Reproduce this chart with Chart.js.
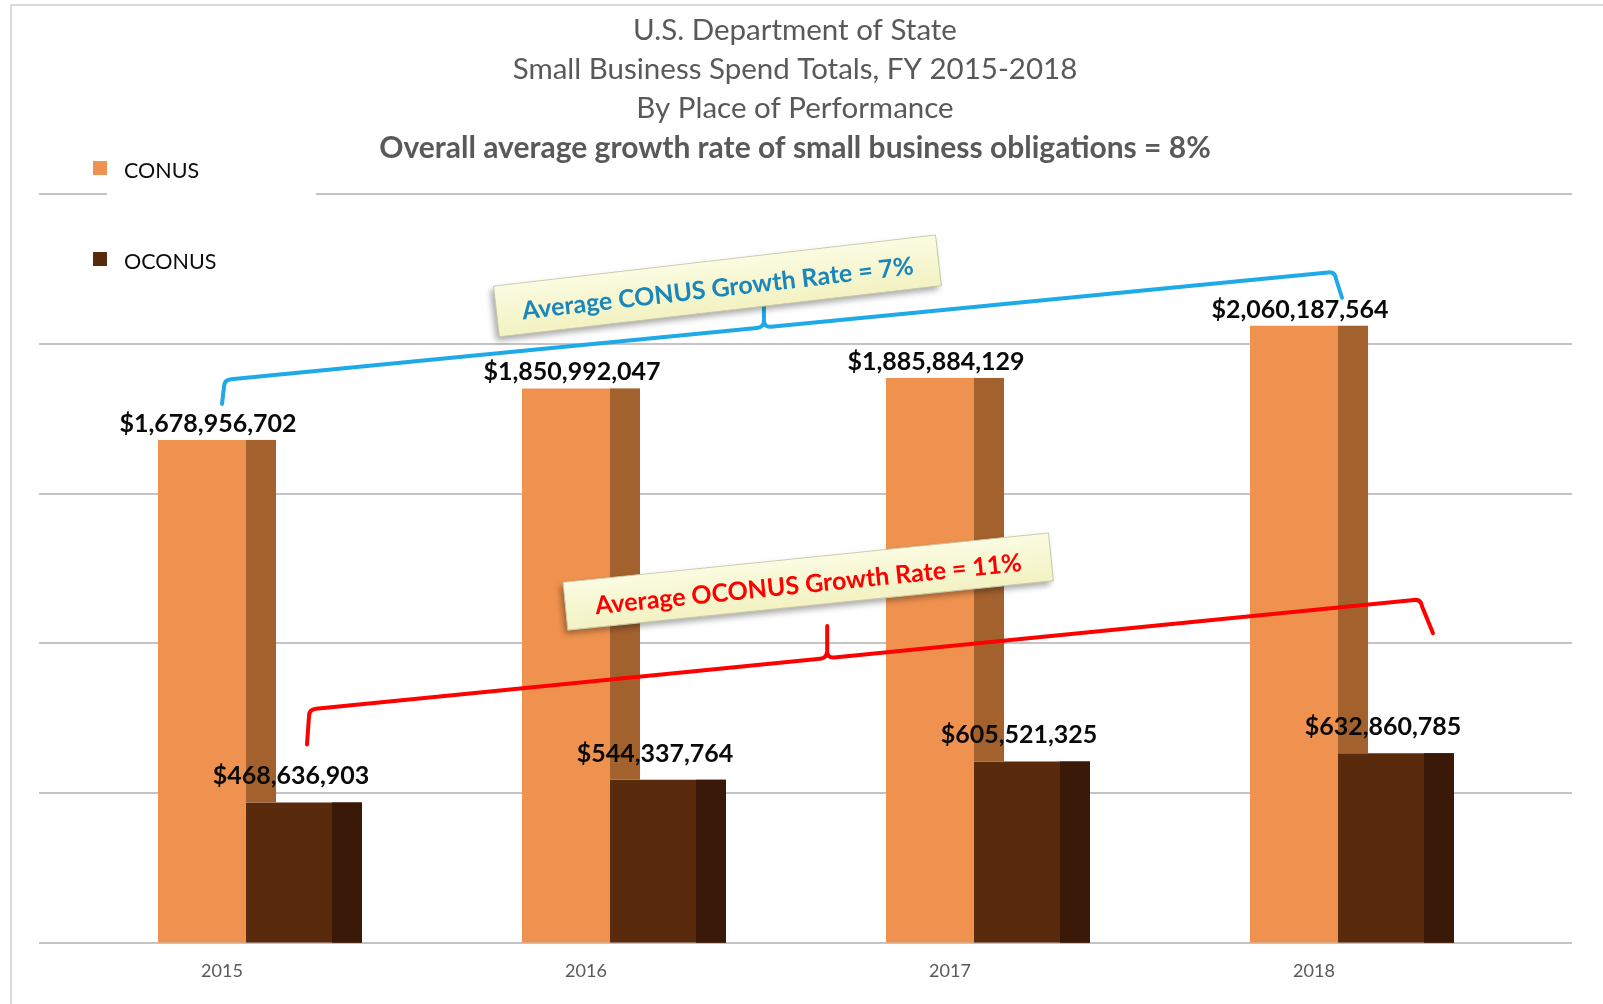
<!DOCTYPE html>
<html>
<head>
<meta charset="utf-8">
<title>Small Business Spend Totals, FY 2015-2018</title>
<script src="https://cdn.jsdelivr.net/npm/chart.js@4.4.1/dist/chart.umd.min.js"></script>
<style>
    html, body { margin: 0; padding: 0; background: #fff; }
    .wrap { position: relative; width: 1603px; height: 1004px; overflow: hidden; }
    .frame {
        position: absolute; left: 10px; top: 4px; right: -4px; bottom: -4px;
        border-left: 2px solid #dadada; border-top: 2px solid #dadada;
        pointer-events: none;
    }
    canvas { display: block; }
</style>
</head>
<body>
<div class="wrap">
    <canvas id="spendChart" width="1603" height="1004"></canvas>
    <div class="frame"></div>
</div>
<script>
// ─── Data ───
const years = ['2015', '2016', '2017', '2018'];
const conusSpend = [1678956702, 1850992047, 1885884129, 2060187564];
const oconusSpend = [468636903, 544337764, 605521325, 632860785];
const yMax = 2500000000;
const yStep = 500000000;

const titleLines = ['U.S. Department of State', 'Small Business Spend Totals, FY 2015-2018', 'By Place of Performance'];
const subtitleLine = 'Overall average growth rate of small business obligations = 8%';
const conusNote = 'Average CONUS Growth Rate = 7%';
const oconusNote = 'Average OCONUS Growth Rate = 11%';

const FONT = 'Lato';
const SIDE = 30; // depth of the fake 3D side face
const money = v => '$' + v.toLocaleString('en-US');

// ─── Drawing helpers ───
function drawBracket(ctx, p, rise, t, color) {
    const { lb, lc, rc, rb } = p;
    const slope = (rc.y - lc.y) / (rc.x - lc.x);
    const nx = lc.x + (rc.x - lc.x) * t;
    const ny = lc.y + (rc.y - lc.y) * t;
    const r = 7;
    ctx.save();
    ctx.strokeStyle = color;
    ctx.lineWidth = 4;
    ctx.lineCap = 'round';
    ctx.lineJoin = 'round';
    ctx.beginPath();
    ctx.moveTo(lb.x, lb.y);
    ctx.lineTo(lc.x, lc.y + r);
    ctx.quadraticCurveTo(lc.x, lc.y, lc.x + r, lc.y + slope * r);
    ctx.lineTo(nx - r, ny - slope * r);
    ctx.quadraticCurveTo(nx, ny, nx, ny - r);
    ctx.lineTo(nx, ny - rise);
    ctx.moveTo(nx, ny - r);
    ctx.quadraticCurveTo(nx, ny, nx + r, ny + slope * r);
    ctx.lineTo(rc.x - r, rc.y - slope * r);
    ctx.quadraticCurveTo(rc.x, rc.y, rc.x + 1, rc.y + r);
    ctx.lineTo(rb.x, rb.y);
    ctx.stroke();
    ctx.restore();
    return { x: nx, y: ny - rise };
}

function drawTag(ctx, cx, cy, w, h, deg, text, color, size) {
    ctx.save();
    ctx.translate(cx, cy);
    ctx.rotate(deg * Math.PI / 180);
    ctx.shadowColor = 'rgba(0,0,0,0.35)';
    ctx.shadowBlur = 6;
    ctx.shadowOffsetX = -3;
    ctx.shadowOffsetY = 4;
    const g = ctx.createLinearGradient(0, -h / 2, 0, h / 2);
    g.addColorStop(0, '#fbfbe2');
    g.addColorStop(1, '#f2f2c2');
    ctx.fillStyle = g;
    ctx.fillRect(-w / 2, -h / 2, w, h);
    ctx.shadowColor = 'transparent';
    ctx.strokeStyle = '#c9c9a9';
    ctx.lineWidth = 1;
    ctx.strokeRect(-w / 2, -h / 2, w, h);
    ctx.fillStyle = color;
    ctx.font = `bold ${size}px ${FONT}`;
    ctx.textAlign = 'center';
    ctx.textBaseline = 'middle';
    ctx.fillText(text, 0, 3);
    ctx.restore();
}

// ─── Plugin: grid, 3D sides, value labels, brackets, legend ───
const decor = {
    id: 'decor',
    beforeDatasetsDraw(chart) {
        const { ctx, chartArea, scales: { y } } = chart;
        ctx.save();
        ctx.strokeStyle = '#c4c4c4';
        ctx.lineWidth = 2;
        y.ticks.forEach(t => {
            const py = Math.round(y.getPixelForValue(t.value));
            ctx.beginPath();
            ctx.moveTo(chartArea.left - 32, py);
            ctx.lineTo(chartArea.right + 45, py);
            ctx.stroke();
        });
        ctx.restore();
    },
    afterDatasetDraw(chart, args) {
        const ctx = chart.ctx;
        ctx.save();
        if (args.index === 1) {
            // OCONUS: darker right edge of its own face
            ctx.fillStyle = '#3a1908';
            args.meta.data.forEach(bar => {
                const { x, y, base, width } = bar.getProps(['x', 'y', 'base', 'width'], true);
                ctx.fillRect(x + width / 2 - SIDE, y, SIDE, base - y);
            });
        } else {
            // CONUS: side face visible above the OCONUS bar next to it
            const front = chart.getDatasetMeta(1).data;
            ctx.fillStyle = '#a3612e';
            args.meta.data.forEach((bar, i) => {
                const { x, y, width } = bar.getProps(['x', 'y', 'width'], true);
                const stop = front[i].getProps(['y'], true).y;
                ctx.fillRect(x + width / 2, y, SIDE, stop - y);
            });
        }
        ctx.restore();
    },
    afterDatasetsDraw(chart) {
        const { ctx, scales } = chart;
        const xs = scales.x, ys = scales.y;
        const cx = i => xs.getPixelForValue(i);
        const yv = v => ys.getPixelForValue(v);

        // value labels
        ctx.save();
        ctx.font = `bold 25px ${FONT}`;
        ctx.fillStyle = '#0a0a0a';
        ctx.textAlign = 'center';
        ctx.textBaseline = 'middle';
        const shift = [{ dx: 6, dy: -16 }, { dx: -13, dy: -26 }];
        chart.data.datasets.forEach((ds, di) => {
            chart.getDatasetMeta(di).data.forEach((bar, i) => {
                const { x, y } = bar.getProps(['x', 'y'], true);
                ctx.fillText(money(ds.data[i]), x + shift[di].dx, y + shift[di].dy);
            });
        });
        ctx.restore();

        // growth-rate brackets
        const last = years.length - 1;
        const blue = {
            lb: { x: cx(0) - 31, y: yv(conusSpend[0]) - 36 },
            lc: { x: cx(0) - 29, y: yv(conusSpend[0]) - 60 },
            rc: { x: cx(last) - 10, y: yv(conusSpend[last]) - 54 },
            rb: { x: cx(last) - 3, y: yv(conusSpend[last]) - 28 }
        };
        const red = {
            lb: { x: cx(0) + 54, y: yv(oconusSpend[0]) - 58 },
            lc: { x: cx(0) + 56, y: yv(oconusSpend[0]) - 93 },
            rc: { x: cx(last) + 76, y: yv(oconusSpend[last]) - 154 },
            rb: { x: cx(last) + 88, y: yv(oconusSpend[last]) - 120 }
        };
        const nb = drawBracket(ctx, blue, 20, 0.486, '#1eaae6');
        const nr = drawBracket(ctx, red, 32, 0.466, '#ff0000');
        drawTag(ctx, nb.x - 46.5, nb.y - 21.5, 445, 51, -6.6, conusNote, '#1b86ba', 25);
        drawTag(ctx, nr.x - 19, nr.y - 44.5, 488, 48, -5.8, oconusNote, '#ff0000', 25);

        // legend (upper left)
        ctx.save();
        ctx.fillStyle = '#fff';
        ctx.fillRect(107, ys.top - 6, 209, 12);
        ctx.font = `21.5px ${FONT}`;
        ctx.textAlign = 'left';
        ctx.textBaseline = 'middle';
        chart.data.datasets.forEach((ds, i) => {
            const ly = 171 + i * 91;
            ctx.fillStyle = ds.backgroundColor;
            ctx.fillRect(93, ly - 10, 14, 14);
            ctx.fillStyle = '#0d0d0d';
            ctx.fillText(ds.label, 124, ly);
        });
        ctx.restore();
    }
};

// ─── Chart ───
function build() {
    const ctx = document.getElementById('spendChart').getContext('2d');
    new Chart(ctx, {
        type: 'bar',
        data: {
            labels: years,
            datasets: [
                {
                    label: 'CONUS',
                    data: conusSpend,
                    backgroundColor: '#f0924f',
                    categoryPercentage: 0.5604,
                    barPercentage: 0.863
                },
                {
                    label: 'OCONUS',
                    data: oconusSpend,
                    backgroundColor: '#5a2a0c',
                    categoryPercentage: 0.5604,
                    barPercentage: 1.137
                }
            ]
        },
        options: {
            responsive: false,
            animation: false,
            events: [],
            layout: { padding: { left: 63, right: 76, top: 0, bottom: 3.6 } },
            scales: {
                x: {
                    grid: { display: false, drawTicks: false },
                    border: { display: false },
                    ticks: {
                        color: '#595959',
                        font: { family: FONT, size: 18 },
                        padding: 18,
                        labelOffset: -31
                    }
                },
                y: {
                    min: 0,
                    max: yMax,
                    ticks: { display: false, stepSize: yStep },
                    grid: { display: false, drawTicks: false },
                    border: { display: false },
                    afterFit: s => { s.width = 8; }
                }
            },
            plugins: {
                legend: { display: false },
                tooltip: { enabled: false },
                title: {
                    display: true,
                    text: titleLines,
                    color: '#595959',
                    font: { family: FONT, size: 29.5, weight: 'normal', lineHeight: 1.322 },
                    padding: { top: 10.5, bottom: 0 }
                },
                subtitle: {
                    display: true,
                    text: subtitleLine,
                    color: '#595959',
                    font: { family: FONT, size: 30, weight: 'bold', lineHeight: 1.2 },
                    padding: { top: 2.5, bottom: 28 }
                }
            }
        },
        plugins: [decor]
    });
}

Promise.all([
    document.fonts.load(`26px ${FONT}`),
    document.fonts.load(`bold 26px ${FONT}`)
]).then(build, build);
</script>
</body>
</html>
